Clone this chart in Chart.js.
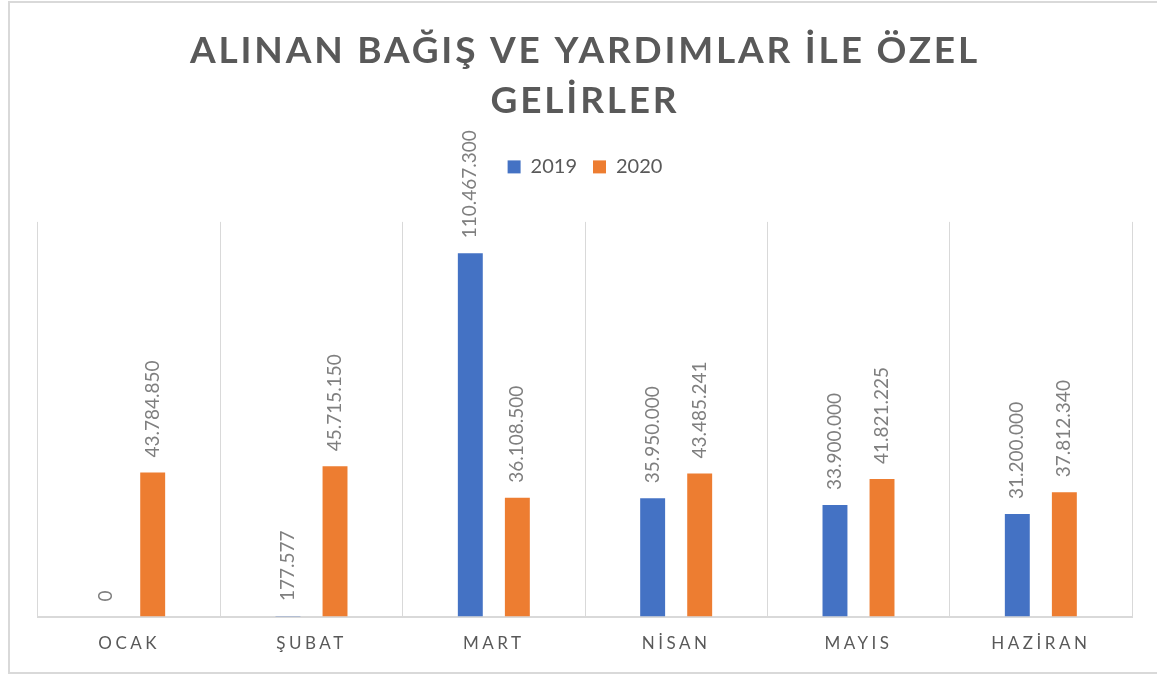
<!DOCTYPE html>
<html lang="tr">
<head>
<meta charset="utf-8">
<title>Alınan Bağış ve Yardımlar ile Özel Gelirler</title>
<script src="https://cdn.jsdelivr.net/npm/chart.js@4/dist/chart.umd.min.js"></script>
<style>
  html, body { margin: 0; padding: 0; background: #fff; overflow: hidden; }
  #frame {
    position: absolute; left: 8px; top: 1px; width: 1149px; height: 673px;
    box-sizing: border-box; border: 2px solid #d9d9d9; border-right: none;
  }
  #chart { position: absolute; left: 0; top: 0; }
</style>
</head>
<body>
<div id="frame"></div>
<canvas id="chart" width="1157" height="675"></canvas>
<script>
const months = ["OCAK", "ŞUBAT", "MART", "NİSAN", "MAYIS", "HAZİRAN"];
const values2019 = [0, 177577, 110467300, 35950000, 33900000, 31200000];
const values2020 = [43784850, 45715150, 36108500, 43485241, 41821225, 37812340];
const titleLines = ["ALINAN BAĞIŞ VE YARDIMLAR İLE ÖZEL", "GELİRLER"];

const FONT = "Lato";

// turkish style thousands: 110.467.300
function fmt(v) {
  return String(v).replace(/\B(?=(\d{3})+(?!\d))/g, ".");
}

// wider letters for the title and month labels, extra space under legend
const spacingPlugin = {
  id: "spacing",
  beforeLayout(chart) {
    const lg = chart.legend;
    if (lg && !lg._patched) {
      const fit = lg.fit;
      lg.fit = function () {
        fit.apply(this, arguments);
        this.height += 35;
      };
      lg._patched = true;
    }
  },
  beforeDraw(chart) {
    const wrap = (obj, key, sp) => {
      if (!obj || obj["_w_" + key]) return;
      const orig = obj[key];
      obj[key] = function () {
        const c = this.ctx;
        c.save();
        c.letterSpacing = sp;
        orig.apply(this, arguments);
        c.restore();
      };
      obj["_w_" + key] = true;
    };
    wrap(chart.titleBlock, "draw", "2.8px");
    wrap(chart.scales.x, "drawLabels", "3.5px");
  }
};

// vertical value labels above the bars
const barLabels = {
  id: "barLabels",
  afterDatasetsDraw(chart) {
    const ctx = chart.ctx;
    ctx.save();
    ctx.font = "19px " + FONT;
    ctx.fillStyle = "#7f7f7f";
    ctx.textAlign = "left";
    ctx.textBaseline = "middle";
    chart.data.datasets.forEach((ds, i) => {
      chart.getDatasetMeta(i).data.forEach((bar, j) => {
        ctx.save();
        ctx.translate(bar.x, bar.y - 15);
        ctx.rotate(-Math.PI / 2);
        ctx.fillText(fmt(ds.data[j]), 0, 0);
        ctx.restore();
      });
    });
    ctx.restore();
  }
};

new Chart(document.getElementById("chart"), {
  type: "bar",
  data: {
    labels: months,
    datasets: [
      { label: "2019", data: values2019, backgroundColor: "#4472c4" },
      { label: "2020", data: values2020, backgroundColor: "#ed7d31" }
    ]
  },
  options: {
    responsive: false,
    animation: false,
    categoryPercentage: 0.516,
    barPercentage: 0.53,
    layout: { padding: { left: 38, right: 25, top: 0, bottom: 4 } },
    plugins: {
      title: {
        display: true,
        text: titleLines,
        color: "#595959",
        font: { family: FONT, size: 37, weight: "bold", lineHeight: 1.35 },
        padding: { top: 26, bottom: 15 }
      },
      legend: {
        position: "top",
        labels: {
          color: "#595959",
          font: { family: FONT, size: 20 },
          boxWidth: 13,
          boxHeight: 13,
          padding: 16
        }
      },
      tooltip: { enabled: false }
    },
    scales: {
      x: {
        grid: { display: true, offset: true, color: "#d9d9d9", lineWidth: 1, drawTicks: false },
        border: { display: true, color: "#d9d9d9", width: 2 },
        ticks: {
          color: "#595959",
          font: { family: FONT, size: 17 },
          padding: 17
        }
      },
      y: {
        display: false,
        min: 0,
        max: 120000000
      }
    }
  },
  plugins: [spacingPlugin, barLabels]
});
</script>
</body>
</html>
